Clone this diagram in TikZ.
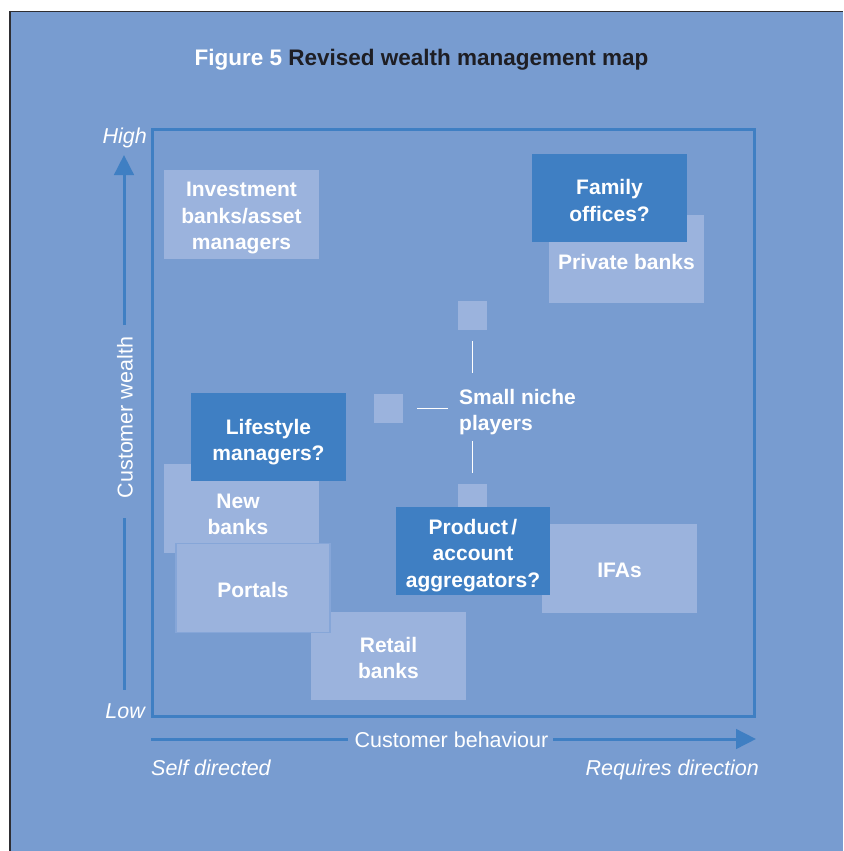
\documentclass[tikz,border=0pt]{standalone}
\usepackage{fontspec}
\setmainfont{Liberation Sans}
\usetikzlibrary{arrows.meta,calc}
\definecolor{panelblue}{HTML}{789CD0}
\definecolor{paleblue}{HTML}{9BB3DD}
\definecolor{deepblue}{HTML}{3F7FC3}
\definecolor{rimgrey}{HTML}{2E2E33}
\definecolor{titleink}{HTML}{1E1E24}
\definecolor{portalrim}{HTML}{86A6D8}

\begin{document}
\begin{tikzpicture}[x=1pt,y=-1pt,
  boxtext/.style={font=\fontsize{21}{26.5}\selectfont\bfseries, text=white, align=center, inner sep=0pt},
  palebox/.style={fill=paleblue, minimum width=155pt, minimum height=88.5pt, inner sep=0pt},
  deepbox/.style={palebox, fill=deepblue},
  axisline/.style={draw=deepblue, line width=3pt},
  axistip/.style={axisline, -{Triangle[length=20pt,width=19.5pt]}},
  axistext/.style={font=\fontsize{21.5}{26}\selectfont, text=white, inner sep=0pt},
  endtext/.style={font=\fontsize{21.5}{26}\selectfont\itshape, text=white, inner sep=0pt},
  nichesq/.style={fill=paleblue, minimum size=29pt, inner sep=0pt},
  tick/.style={draw=white, line width=1.3pt}
]
\useasboundingbox (0,0) rectangle (843,851);
% page and panel
\fill[white] (0,0) rectangle (843,851);
\fill[panelblue] (10,12) rectangle (843,851);
\draw[rimgrey, line width=1.5pt] (9.75,851) -- (9.75,11.75) -- (843,11.75);

% title
\node[anchor=base, inner sep=0pt, font=\fontsize{22.5}{26}\selectfont\bfseries] (title) at (421.5,66)
  {\textcolor{white}{Figure 5} \textcolor{titleink}{Revised wealth management map}};

% map frame
\draw[draw=deepblue, line width=3pt] (152.5,129.5) rectangle (754.5,716.5);

% vertical axis: customer wealth
\node[axistext, rotate=90] (wealth) at (125,417.5) {Customer wealth};
\coordinate (wealthtop) at (124,155);
\coordinate (wealthgapA) at (124,325);
\coordinate (wealthgapB) at (124,518);
\coordinate (wealthlow) at (124,690);
\draw[axistip] (wealthgapA) -- (wealthtop);
\draw[axisline] (wealthgapB) -- (wealthlow);
\node[endtext, anchor=base east] (high) at (147,143) {High};
\node[endtext, anchor=base east] (low) at (145,718) {Low};

% horizontal axis: customer behaviour
\node[axistext, anchor=base] (behaviour) at (451.5,747) {Customer behaviour};
\coordinate (behavleft) at (151,739);
\coordinate (behavgapA) at (347.5,739);
\coordinate (behavgapB) at (553,739);
\coordinate (behavright) at (756,739);
\draw[axisline] (behavleft) -- (behavgapA);
\draw[axistip] (behavgapB) -- (behavright);
\node[endtext, anchor=base west] (selfdir) at (151,775) {Self directed};
\node[endtext, anchor=base east] (reqdir) at (759,775) {Requires direction};

% players (boxes first, then their captions)
\node[palebox] (invest) at (241.5,214.5) {};
\node[boxtext] (investtext) at ($(invest.center)+(0,3.5)$) {Investment\\banks/asset\\managers};
\node[palebox] (private) at (626.5,259) {};
\node[boxtext] (privatetext) at ($(private.center)+(0,3)$) {Private banks};
\node[deepbox] (family) at (609.5,198) {};
\node[boxtext] (familytext) at ($(family.center)+(0,2.5)$) {Family\\offices?};
\node[palebox] (newbanks) at (241.5,508.5) {};
\node[boxtext] (newbankstext) at (238,514.5) {New\\banks};
\node[deepbox] (lifestyle) at (268.5,437) {};
\node[boxtext] (lifestyletext) at ($(lifestyle.center)+(0,5)$) {Lifestyle\\managers?};
\node[palebox] (retail) at (388.5,656) {};
\node[boxtext] (retailtext) at ($(retail.center)+(0,2)$) {Retail\\banks};
\node[palebox, minimum width=154pt, draw=portalrim, line width=1.2pt] (portals) at (253,588) {};
\node[boxtext] (portalstext) at ($(portals.center)+(0,2)$) {Portals};

% small niche players
\node[nichesq] (sqtop) at (472.5,315.5) {};
\node[nichesq] (sqleft) at (388.5,408.5) {};
\node[nichesq] (sqlow) at (472.5,498.5) {};
\node[boxtext, align=left, anchor=west] (niche) at (459,412) {Small niche\\players};
\draw[tick] ($(sqtop.south)+(0,11)$) -- ++(0,31.5);
\draw[tick] ($(sqleft.east)+(14,0)$) -- ++(31,0);
\draw[tick] ($(sqlow.north)+(0,-11)$) -- ++(0,-32);

\node[palebox] (ifas) at (619.5,568.5) {};
\node[boxtext] (ifastext) at ($(ifas.center)+(0,2)$) {IFAs};
\node[deepbox, minimum width=154pt] (product) at (473,551) {};
\node[boxtext] (producttext) at ($(product.center)+(0,4.5)$) {Product\,/\\account\\aggregators?};
\end{tikzpicture}
\end{document}
